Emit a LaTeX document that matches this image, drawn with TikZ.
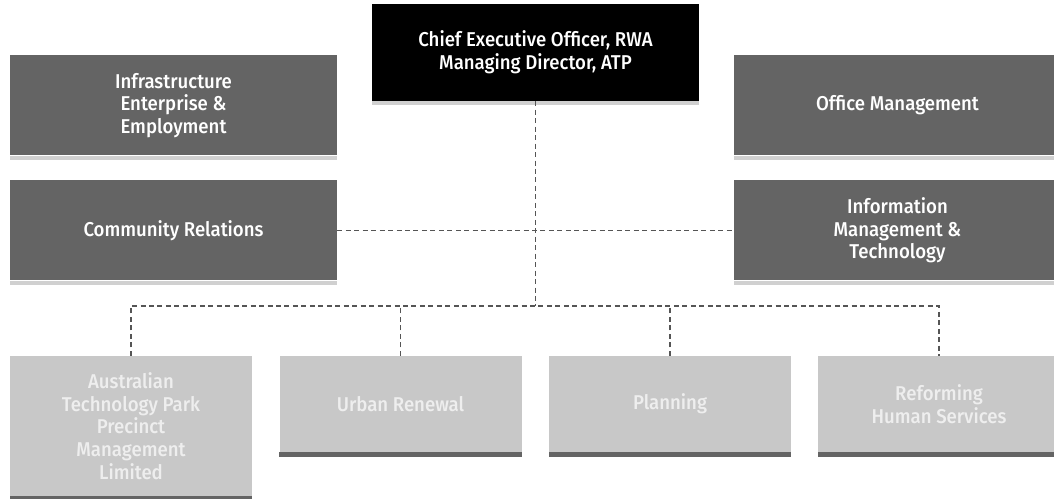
\documentclass[tikz,border=0pt]{standalone}
\usepackage{fontspec}
\setmainfont{Fira Sans}[UprightFont={* Medium}, FakeStretch=0.93]
\definecolor{unitgrey}{HTML}{646464}
\definecolor{branchgrey}{HTML}{C8C8C8}
\definecolor{edgegrey}{HTML}{D0D0D0}
\definecolor{linkgrey}{HTML}{555555}

\begin{document}
\begin{tikzpicture}[x=0.75pt, y=-0.75pt,
  box/.style={rectangle, inner sep=0pt, align=center, font=\fontsize{15}{17}\selectfont},
  ceobox/.style={box, fill=black, text=white, minimum width=245.25pt, minimum height=72.75pt},
  unitbox/.style={box, fill=unitgrey, text=white, minimum width=245.25pt, minimum height=75pt},
  branchbox/.style={box, fill=branchgrey, text=white!70!branchgrey, minimum width=181.5pt, minimum height=72pt},
  link/.style={linkgrey, line width=0.9pt, dash pattern=on 3.75pt off 2.6pt}]
  \useasboundingbox (0,0) rectangle (1054,499);
  % executive
  \node[ceobox] (ceo) at (535.5,52.5) {Chief Executive Officer, RWA\\Managing Director, ATP};
  % units either side of the executive
  \node[unitbox] (infra) at (173.5,105.5) {Infrastructure\\Enterprise \&\\Employment};
  \node[unitbox] (office) at (897.5,105.5) {Office Management};
  \node[unitbox] (community) at (173.5,230.5) {Community Relations};
  \node[unitbox] (imt) at (897.5,230.5) {Information\\Management \&\\Technology};
  % branches
  \node[branchbox, minimum height=105pt] (atp) at (131,426) {Australian\\Technology Park\\Precinct\\Management\\Limited};
  \node[branchbox] (urban) at (400.5,404) {Urban Renewal};
  \node[branchbox] (planning) at (670,404) {Planning};
  \node[branchbox] (reform) at (939,404) {Reforming\\Human Services};
  % strips under the boxes
  \foreach \n in {ceo,infra,office,community,imt}
    \fill[edgegrey] (\n.south west) rectangle ([yshift=-3pt]\n.south east);
  \foreach \n in {atp,urban,planning,reform}
    \fill[unitgrey] (\n.south west) rectangle ([yshift=-3.75pt]\n.south east);
  % reporting lines
  \coordinate (bus) at (535.5,306);
  \draw[link] (ceo.south) -- (bus);
  \draw[link] (community.east) -- (imt.west);
  \draw[link] (atp.north) |- (bus) -| (reform.north);
  \draw[link] (urban.north) -- (urban.north |- bus);
  \draw[link] (planning.north) -- (planning.north |- bus);
\end{tikzpicture}
\end{document}
